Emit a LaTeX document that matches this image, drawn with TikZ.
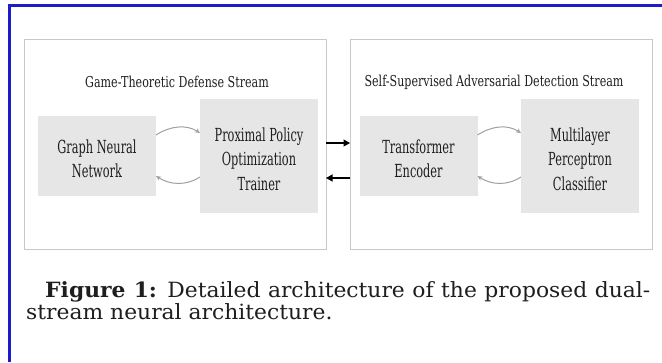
\documentclass[tikz,border=0pt]{standalone}
\usepackage{fontspec}
\usetikzlibrary{arrows.meta}
\newfontfamily\titlefont[FakeStretch=0.74]{DejaVu Serif}
\newfontfamily\blockfont[FakeStretch=0.63]{DejaVu Serif}
\newfontfamily\capfont[FakeStretch=1.04]{DejaVu Serif}
\definecolor{framblue}{RGB}{28,28,200}
\definecolor{boxline}{RGB}{200,200,200}
\definecolor{blockfill}{RGB}{230,230,230}
\definecolor{loopgray}{RGB}{160,160,160}
\definecolor{inktext}{RGB}{30,30,30}
\begin{document}
\begin{tikzpicture}[x=1pt,y=-1pt,
  streambox/.style={draw=boxline,line width=1pt,fill=white,inner sep=0pt,outer sep=0pt,
    minimum width=302pt,minimum height=210pt},
  block/.style={fill=blockfill,inner sep=0pt,outer sep=0pt,minimum width=118pt},
  blocktext/.style={inner sep=0pt,align=center,text=inktext,
    font=\blockfont\fontsize{18}{24.5}\selectfont},
  streamtitle/.style={inner sep=0pt,text=inktext,font=\titlefont\fontsize{15}{18}\selectfont},
  loop/.style={draw=loopgray,line width=1pt,-{Stealth[length=5pt,width=4.5pt]}},
  link/.style={draw=black,line width=1.1pt,-{Triangle[length=6.5pt,width=7pt]}},
  captext/.style={inner sep=0pt,anchor=base west,text=inktext,font=\capfont\fontsize{21}{22}\selectfont}]
\useasboundingbox (0,0) rectangle (662,362);
\fill[white] (0,0) rectangle (662,362);
% page frame
\draw[framblue,line width=3pt] (9,362) -- (9,5.5) -- (662,5.5);
% stream containers
\node[streambox] (lbox) at (175,144) {};
\node[streambox] (rbox) at (501,144) {};
\node[streamtitle] (ltitle) at (177,82) {Game-Theoretic Defense Stream};
\node[streamtitle] (rtitle) at (494,82) {Self-Supervised Adversarial Detection Stream};
% blocks
\node[block,minimum height=80pt] (gnn) at (97,156) {};
\node[block,minimum height=114pt] (ppo) at (259,156) {};
\node[block,minimum height=80pt] (enc) at (418.5,156) {};
\node[block,minimum height=114pt] (mlp) at (580,156) {};
\node[blocktext] (gnnt) at ([yshift=-3pt]gnn.center) {Graph Neural\\Network};
\node[blocktext] (ppot) at ([yshift=-3pt]ppo.center) {Proximal Policy\\Optimization\\Trainer};
\node[blocktext] (enct) at ([yshift=-3pt]enc.center) {Transformer\\Encoder};
\node[blocktext] (mlpt) at ([yshift=-3pt]mlp.center) {Multilayer\\Perceptron\\Classifier};
% feedback loops inside each stream
\draw[loop] ([yshift=21pt]gnn.east) .. controls +(14,-9) and +(-14,-9) .. ([yshift=23pt]ppo.west);
\draw[loop] ([yshift=-21pt]ppo.west) .. controls +(-14,9) and +(14,9) .. ([yshift=-20pt]gnn.east);
\draw[loop] ([yshift=21pt]enc.east) .. controls +(14,-9) and +(-14,-9) .. ([yshift=23pt]mlp.west);
\draw[loop] ([yshift=-21pt]mlp.west) .. controls +(-14,9) and +(14,9) .. ([yshift=-20pt]enc.east);
% links between the streams
\draw[link] ([yshift=1pt]lbox.east) -- ([yshift=1pt]rbox.west);
\draw[link] ([yshift=-34pt]rbox.west) -- ([yshift=-34pt]lbox.east);
% caption, first line justified
\node[captext] (cap1) at (45,297) {\makebox[605pt][s]{\textbf{Figure 1:} Detailed architecture of the proposed dual-}};
\node[captext] (cap2) at (26,319) {stream neural architecture.};
\end{tikzpicture}
\end{document}
